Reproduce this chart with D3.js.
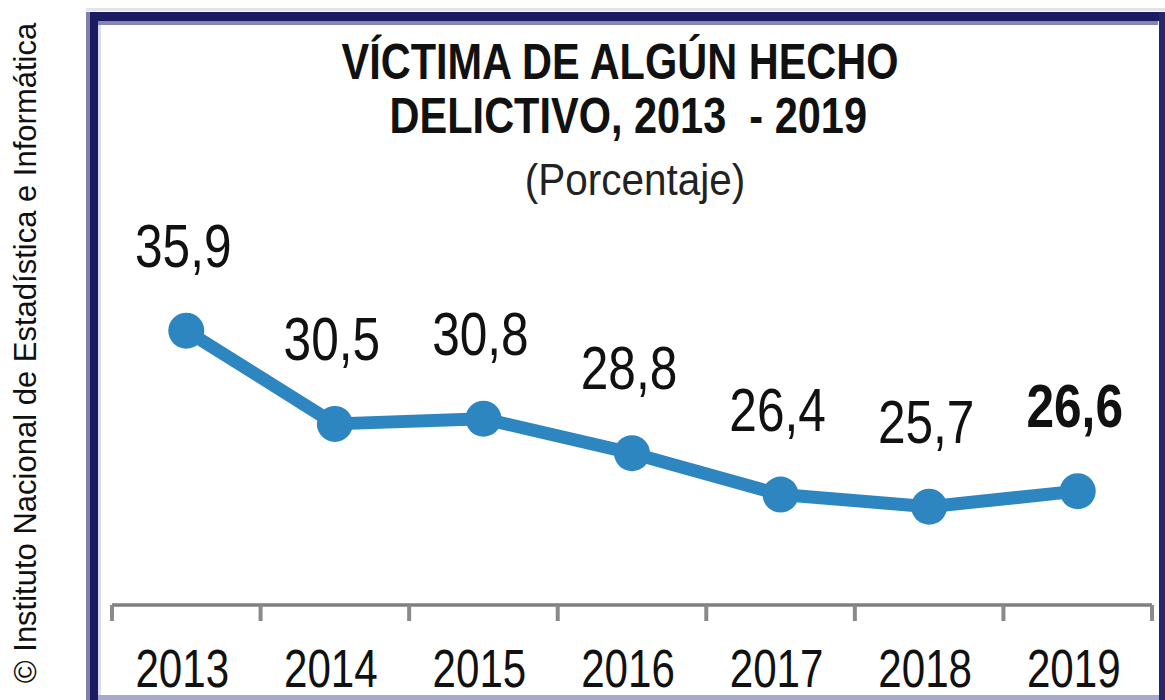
<!DOCTYPE html>
<html>
<head>
    <title>Víctima de algún hecho delictivo</title>
    <script src="https://d3js.org/d3.v7.min.js"></script>
    <style>
        body { margin: 0; background: #fff; }
        text { font-family: "Liberation Sans", Arial, sans-serif; }
    </style>
</head>
<body>
    <div id="chart"></div>
    <script>
        const years = ["2013", "2014", "2015", "2016", "2017", "2018", "2019"];
        const values = [35.9, 30.5, 30.8, 28.8, 26.4, 25.7, 26.6];
        const valueLabels = ["35,9", "30,5", "30,8", "28,8", "26,4", "25,7", "26,6"];
        const titleLines = ["VÍCTIMA DE ALGÚN HECHO", "DELICTIVO, 2013  - 2019"];
        const subtitle = "(Porcentaje)";
        const credit = "© Instituto Nacional de Estadística e Informática";

        const width = 1165, height = 700;
        const navy = "#1b1b62";
        const blue = "#2e86c1";

        const svg = d3.select("#chart").append("svg")
            .attr("width", width)
            .attr("height", height);

        // frame
        svg.append("line").attr("x1", 86).attr("x2", 1165).attr("y1", 9.5).attr("y2", 9.5)
            .attr("stroke", "#e2e2ec").attr("stroke-width", 3);
        svg.append("rect").attr("x", 86).attr("y", 12).attr("width", 4).attr("height", 688).attr("fill", "#8080ae");
        svg.append("rect").attr("x", 98).attr("y", 21).attr("width", 3).attr("height", 679).attr("fill", "#dcdce8");
        svg.append("rect").attr("x", 98).attr("y", 21).attr("width", 1060).attr("height", 4).attr("fill", "#8585b2");
        svg.append("rect").attr("x", 90).attr("y", 12).attr("width", 1075).attr("height", 9).attr("fill", navy);
        svg.append("rect").attr("x", 90).attr("y", 12).attr("width", 8).attr("height", 688).attr("fill", navy);
        svg.append("rect").attr("x", 1159).attr("y", 12).attr("width", 6).attr("height", 688).attr("fill", "#26266e");
        svg.append("rect").attr("x", 98).attr("y", 695).attr("width", 1061).attr("height", 5).attr("fill", "#a8a8cc");

        // credit, rotated
        svg.append("text")
            .attr("transform", "translate(36,353) rotate(-90)")
            .attr("text-anchor", "middle")
            .attr("font-size", 31)
            .attr("fill", "#111")
            .text(credit);

        // title
        const title = svg.append("g").attr("transform", "translate(620,0) scale(0.83,1)");
        title.selectAll("text.t")
            .data(titleLines)
            .join("text")
            .attr("class", "t")
            .attr("x", (d, i) => i === 0 ? 0 : 10)
            .attr("y", (d, i) => 79 + i * 54)
            .attr("text-anchor", "middle")
            .attr("font-size", 50)
            .attr("font-weight", "bold")
            .attr("fill", "#111")
            .style("white-space", "pre")
            .text(d => d);
        svg.append("text")
            .attr("transform", "translate(635,195) scale(0.92,1)")
            .attr("text-anchor", "middle")
            .attr("font-size", 44)
            .attr("fill", "#222")
            .text(subtitle);

        // scales
        const x = d3.scaleBand().domain(years).range([112, 1152]);
        const y = d3.scaleLinear().domain([20, 40]).range([605, 260]);

        // axis
        const axis = svg.append("g")
            .attr("transform", "translate(0,605)")
            .call(d3.axisBottom(x).tickSize(0).tickFormat(""));
        axis.select(".domain").remove();
        axis.append("line")
            .attr("x1", x.range()[0]).attr("x2", x.range()[1])
            .attr("stroke", "#7f7f7f").attr("stroke-width", 3.5);
        const bounds = years.map(d => x(d)).concat([x.range()[1]]);
        axis.selectAll("line.tk")
            .data(bounds)
            .join("line")
            .attr("class", "tk")
            .attr("x1", d => d).attr("x2", d => d)
            .attr("y1", 0).attr("y2", 16)
            .attr("stroke", "#8a8a8a").attr("stroke-width", 4);

        svg.append("g").selectAll("text")
            .data(years)
            .join("text")
            .attr("transform", d => `translate(${x(d) + x.bandwidth() / 2 - 4},687) scale(0.78,1)`)
            .attr("text-anchor", "middle")
            .attr("font-size", 54)
            .attr("fill", "#111")
            .text(d => d);

        // line + markers
        const cx = d => x(d) + x.bandwidth() / 2;
        const pts = years.map((d, i) => [cx(d), y(values[i])]);
        svg.append("path")
            .attr("d", d3.line()(pts))
            .attr("fill", "none")
            .attr("stroke", blue)
            .attr("stroke-width", 13)
            .attr("stroke-linejoin", "round");
        svg.append("g").selectAll("circle")
            .data(pts)
            .join("circle")
            .attr("cx", d => d[0])
            .attr("cy", d => d[1])
            .attr("r", 18)
            .attr("fill", blue);

        // value labels
        svg.append("g").selectAll("text")
            .data(years)
            .join("text")
            .attr("transform", (d, i) => `translate(${cx(d) - 3},${y(values[i]) - 64}) scale(0.8,1)`)
            .attr("text-anchor", "middle")
            .attr("font-size", 62)
            .attr("font-weight", (d, i) => i === years.length - 1 ? "bold" : "normal")
            .attr("fill", "#111")
            .text((d, i) => valueLabels[i]);
    </script>
</body>
</html>
